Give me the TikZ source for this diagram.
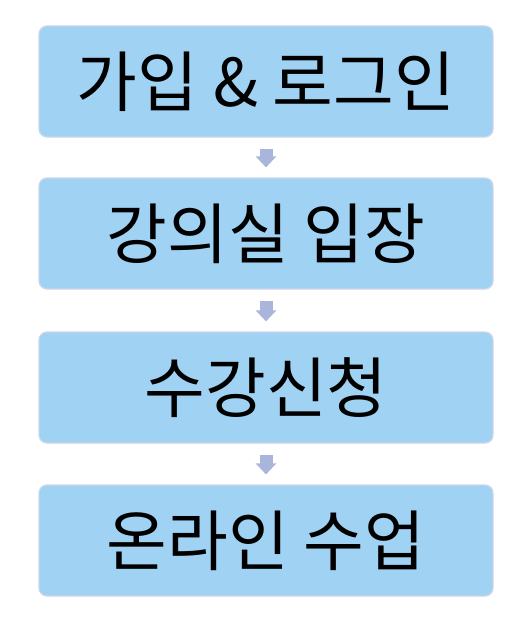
\documentclass[tikz,border=0pt]{standalone}
\usepackage{fontspec}
\usepackage{xcolor}
\usepackage{tikz}
\usetikzlibrary{arrows.meta,positioning}
\newfontfamily\korean{Noto Sans CJK KR}
\definecolor{boxblue}{HTML}{A0D2F4}
\definecolor{boxedge}{HTML}{CCD5EC}
\definecolor{arrowblue}{HTML}{AAB5DB}

\begin{document}
\begin{tikzpicture}[x=1pt,y=-1pt,
		stepbox/.style={draw=boxedge,line width=1.2pt,fill=boxblue,rounded corners=8pt,
			minimum width=454pt,minimum height=111pt,inner sep=0pt,
			font=\korean\fontsize{66}{66}\selectfont},
		flow/.style={draw=arrowblue,line width=13pt,-{Triangle[width=20pt,length=11pt]},
			shorten <=11pt,shorten >=10pt}]
		\useasboundingbox (0,0) rectangle (528,626);
		\node[stepbox] (login) at (266,81.5) {가입 \& 로그인};
		\node[stepbox] (room) at (266,233.5) {강의실 입장};
		\node[stepbox] (enroll) at (266,387.5) {수강신청};
		\node[stepbox] (online) at (266,540.5) {온라인 수업};
		\draw[flow] (login) -- (room);
		\draw[flow] (room) -- (enroll);
		\draw[flow] (enroll) -- (online);
		\end{tikzpicture}
\end{document}
